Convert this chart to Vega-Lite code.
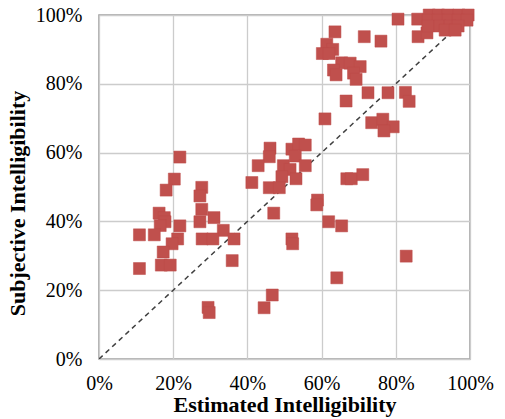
{
  "$schema": "https://vega.github.io/schema/vega-lite/v6.json",
  "width": 371,
  "height": 344,
  "autosize": {"type": "none"},
  "padding": {"left": 99, "top": 15, "right": 35, "bottom": 60},
  "background": "white",
  "config": {
    "font": "Liberation Serif",
    "view": {"stroke": "#9A9A9A", "strokeWidth": 1.5},
    "axis": {
      "grid": true,
      "gridColor": "#CCCCCC",
      "gridWidth": 1.3,
      "domain": false,
      "ticks": false,
      "labelFlush": false,
      "labelOverlap": false,
      "labelFont": "Liberation Serif",
      "labelFontSize": 20,
      "labelColor": "#000000",
      "titleFont": "Liberation Serif",
      "titleFontSize": 22,
      "titleFontWeight": "bold",
      "titleColor": "#000000"
    }
  },
  "datasets": {
    "diag": [{"x": 0, "y": 0}, {"x": 100, "y": 100}],
    "pts": [
      {"x": 21.8, "y": 58.7}, {"x": 20.3, "y": 52.3}, {"x": 18.1, "y": 49.1}, {"x": 27.7, "y": 49.9},
      {"x": 27.2, "y": 47.4}, {"x": 27.7, "y": 43.5}, {"x": 16.2, "y": 42.4}, {"x": 17.6, "y": 41.1},
      {"x": 17.8, "y": 39.9}, {"x": 16.5, "y": 38.8}, {"x": 27.2, "y": 39.9}, {"x": 31.0, "y": 41.1},
      {"x": 21.8, "y": 38.7}, {"x": 10.9, "y": 36.1}, {"x": 14.9, "y": 36.1}, {"x": 33.5, "y": 37.4},
      {"x": 21.2, "y": 34.9}, {"x": 27.8, "y": 34.9}, {"x": 30.7, "y": 34.9}, {"x": 36.4, "y": 34.9},
      {"x": 19.7, "y": 33.5}, {"x": 17.3, "y": 31.1}, {"x": 35.9, "y": 28.6}, {"x": 10.9, "y": 26.3},
      {"x": 16.8, "y": 27.3}, {"x": 19.2, "y": 27.3}, {"x": 29.4, "y": 15.0}, {"x": 29.7, "y": 13.5},
      {"x": 41.2, "y": 51.3}, {"x": 46.1, "y": 61.3}, {"x": 45.9, "y": 58.8}, {"x": 42.9, "y": 56.2},
      {"x": 52.0, "y": 61.0}, {"x": 53.8, "y": 62.5}, {"x": 55.6, "y": 62.2}, {"x": 52.9, "y": 59.0},
      {"x": 49.7, "y": 56.2}, {"x": 51.5, "y": 55.1}, {"x": 55.6, "y": 56.2}, {"x": 49.3, "y": 53.0},
      {"x": 53.1, "y": 52.4}, {"x": 45.9, "y": 49.8}, {"x": 48.6, "y": 49.8}, {"x": 66.8, "y": 52.4},
      {"x": 68.0, "y": 52.4}, {"x": 71.1, "y": 53.6}, {"x": 58.9, "y": 46.2}, {"x": 58.7, "y": 44.8},
      {"x": 47.1, "y": 42.4}, {"x": 61.9, "y": 39.9}, {"x": 65.4, "y": 38.7}, {"x": 52.0, "y": 34.9},
      {"x": 52.2, "y": 33.5}, {"x": 82.8, "y": 29.9}, {"x": 64.1, "y": 23.6}, {"x": 46.7, "y": 18.6},
      {"x": 44.5, "y": 14.9},
      {"x": 63.6, "y": 95.1}, {"x": 71.5, "y": 93.7}, {"x": 76.0, "y": 92.4}, {"x": 80.6, "y": 98.8},
      {"x": 61.4, "y": 91.5}, {"x": 63.0, "y": 90.0}, {"x": 60.2, "y": 88.8}, {"x": 62.0, "y": 88.8},
      {"x": 65.4, "y": 86.1}, {"x": 67.7, "y": 86.0}, {"x": 70.4, "y": 85.0}, {"x": 63.2, "y": 84.0},
      {"x": 63.9, "y": 82.6}, {"x": 68.6, "y": 83.1}, {"x": 69.3, "y": 81.3}, {"x": 72.5, "y": 77.4},
      {"x": 77.9, "y": 77.4}, {"x": 82.6, "y": 77.5}, {"x": 83.6, "y": 74.9}, {"x": 66.6, "y": 75.0},
      {"x": 60.9, "y": 69.8}, {"x": 73.5, "y": 68.7}, {"x": 76.5, "y": 69.7}, {"x": 79.3, "y": 67.5},
      {"x": 76.8, "y": 66.3}, {"x": 85.9, "y": 98.8}, {"x": 86.0, "y": 93.7}, {"x": 88.4, "y": 94.8},
      {"x": 89.0, "y": 100.0}, {"x": 91.5, "y": 100.0}, {"x": 94.0, "y": 100.0}, {"x": 97.0, "y": 100.0}, {"x": 99.5, "y": 100.0},
      {"x": 88.7, "y": 98.5}, {"x": 91.4, "y": 98.5}, {"x": 94.1, "y": 98.5}, {"x": 96.8, "y": 98.5}, {"x": 99.2, "y": 98.5},
      {"x": 88.7, "y": 96.8}, {"x": 91.9, "y": 96.8}, {"x": 94.6, "y": 96.8}, {"x": 96.8, "y": 96.8},
      {"x": 93.3, "y": 95.6}, {"x": 96.0, "y": 95.6}
    ]
  },
  "layer": [
    {
      "data": {"name": "diag"},
      "mark": {"type": "line", "color": "#404040", "strokeWidth": 1.5, "strokeDash": [5, 4], "clip": true},
      "encoding": {
        "x": {"field": "x", "type": "quantitative", "scale": {"domain": [0, 100], "nice": false}, "axis": {"values": [0, 20, 40, 60, 80, 100], "labelExpr": "datum.value + '%'", "labelPadding": 14, "titlePadding": 1, "title": "Estimated Intelligibility"}},
        "y": {"field": "y", "type": "quantitative", "scale": {"domain": [0, 100], "nice": false}, "axis": {"values": [0, 20, 40, 60, 80, 100], "labelExpr": "datum.value + '%'", "labelPadding": 17, "titlePadding": 6, "titleY": 188, "title": "Subjective Intelligibility"}}
      }
    },
    {
      "data": {"name": "pts"},
      "mark": {"type": "square", "size": 144, "fill": "#C0504D", "opacity": 1, "stroke": "#BC4B48", "strokeWidth": 0.5},
      "encoding": {
        "x": {"field": "x", "type": "quantitative"},
        "y": {"field": "y", "type": "quantitative"}
      }
    }
  ]
}
